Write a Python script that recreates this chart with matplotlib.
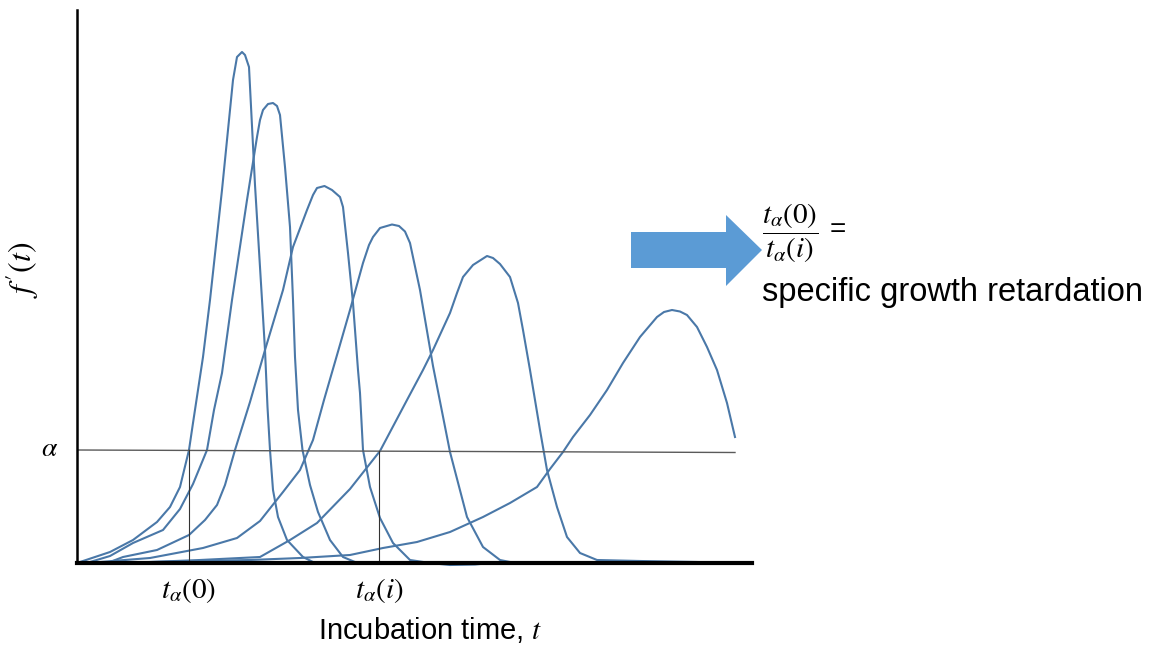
import matplotlib
matplotlib.use("Agg")
import matplotlib.pyplot as plt
from matplotlib.patches import Polygon

plt.rcParams['font.family'] = ['Liberation Sans', 'DejaVu Sans']
plt.rcParams['mathtext.fontset'] = 'stix'

# growth-rate curves f'(t), arbitrary units
t1 = [3, 33, 56, 80, 93, 103, 112, 116, 126, 133, 145, 156, 160, 165, 168, 172, 178, 185,
      188, 190.5, 193, 196, 201, 210, 226, 236, 283]
f1 = [1, 11, 23, 41, 56, 76, 113, 140, 206, 263, 373, 483, 506, 511, 508, 496, 378, 263,
      213, 156, 113, 73, 46, 23, 6, 1, 0]

t2 = [13, 33, 56, 86, 103, 116, 130, 137, 145, 155, 170, 180, 183, 186, 191, 196, 200, 203, 208,
      213, 216, 218, 221, 225.5, 233, 241, 253, 266, 278, 323]
f2 = [1, 7, 20, 33, 54, 79, 113, 153, 190, 263, 363, 426, 443, 453, 459, 460, 457, 448, 396,
      336, 263, 206, 153, 113, 78, 51, 23, 6, 1, 0]

t3 = [33, 46, 80, 112, 128, 140, 148, 158, 173, 188, 206, 216, 230, 236, 240, 247.5, 255, 263,
      266, 271, 276, 281, 283, 286, 293, 303, 316, 333, 353, 373, 398, 413]
f3 = [1, 6, 13, 28, 43, 58, 78, 113, 161, 213, 273, 316, 353, 368, 375, 377, 373, 366, 356,
      310, 260, 193, 170, 113, 76, 45, 20, 3, 0, -2, -1.5, 0]

t4 = [23, 73, 126, 160, 183, 206, 223, 236, 247, 258, 273, 286, 292, 296, 303, 315, 322, 328, 333,
      343, 356, 373, 390, 406, 423, 438]
f4 = [1, 5, 15, 25, 42, 71, 93, 123, 163, 201, 253, 300, 318, 326, 335, 338.5, 337, 331.5, 320,
      273, 197, 111, 46, 16, 3, 0]

t5 = [53, 73, 123, 183, 213, 240, 273, 303, 330, 346, 356, 373, 380, 386, 396, 410, 416, 423,
      433, 441, 446, 453, 463, 470, 480, 490, 503, 520, 563, 620, 643]
f5 = [0, 1, 3, 6, 23, 40, 74, 112, 163, 193, 213, 250, 270, 286, 298, 307, 305, 299, 286, 260,
      233, 193, 133, 93, 56, 26, 10, 3, 2, 1, 0]

t6 = [3, 73, 173, 223, 273, 306, 340, 373, 406, 433, 460, 473, 486, 496, 513, 530, 546,
      563, 580, 587, 595, 603, 610, 620, 630, 640, 650, 658]
f6 = [0, 1, 3, 5, 8, 15, 21, 31, 46, 60, 76, 94, 111, 126, 148, 173, 200, 226, 246, 251,
      253, 251.5, 248, 236, 216, 193, 160, 126]

curves = [(t1, f1), (t2, f2), (t3, f3), (t4, f4), (t5, f5), (t6, f6)]

alpha_level = [113, 110.5]   # threshold line, left and right end
alpha_span = [0, 658]
t_alpha_0 = 112
t_alpha_i = 302

W, H = 1149, 646
fig = plt.figure(figsize=(W / 100, H / 100), dpi=100)
ax = fig.add_axes([77 / W, (H - 571) / H, 675 / W, 561 / H])

for t, f in curves:
    ax.plot(t, f, color='#4A78A8', lw=1.5, solid_joinstyle='round')

ax.plot(alpha_span, alpha_level, color='#5a5a5a', lw=1.0)
for tv in (t_alpha_0, t_alpha_i):
    top = alpha_level[0] - (alpha_level[0] - alpha_level[1]) * tv / alpha_span[1]
    ax.plot([tv, tv], [0, top], color='#333333', lw=0.8)

ax.set_xlim(0, 675)
ax.set_ylim(-8, 553)
ax.spines['top'].set_visible(False)
ax.spines['right'].set_visible(False)
ax.spines['bottom'].set_position(('data', 0))
ax.spines['bottom'].set_linewidth(3)
ax.spines['left'].set_linewidth(1.8)
ax.spines['left'].set_bounds(0, 553)
ax.set_xticks([])
ax.set_yticks([])
ax.patch.set_alpha(0)

ax.annotate(r'$t_\alpha(0)$', (t_alpha_0, 0), xytext=(0, -20), textcoords='offset points',
            ha='center', va='center', fontsize=21)
ax.annotate(r'$t_\alpha(i)$', (t_alpha_i, 0), xytext=(0, -20), textcoords='offset points',
            ha='center', va='center', fontsize=21)
ax.annotate(r'$\alpha$', (0, alpha_level[0]), xytext=(-19.5, 1), textcoords='offset points',
            ha='center', va='center', fontsize=20)

fig.text(22 / W, 1 - 270 / H, r"$f\,'(t)$", rotation=90, ha='center', va='center', fontsize=23)
fig.text(430 / W, 1 - 630 / H, r'Incubation time, $t$', ha='center', va='center', fontsize=21)

# arrow pointing to the ratio
px = [631, 726, 726, 762, 726, 726, 631]
py = [232, 232, 215, 250, 286, 268, 268]
arrow = Polygon([(x / W, 1 - y / H) for x, y in zip(px, py)], closed=True,
                transform=fig.transFigure, facecolor='#5B9BD5', edgecolor='none')
fig.patches.append(arrow)

fig.text(762 / W, 1 - 233 / H, r'$\dfrac{t_\alpha(0)}{t_\alpha(i)}$', ha='left', va='center', fontsize=21)
fig.text(830 / W, 1 - 230 / H, '=', ha='left', va='center', fontsize=20)
fig.text(762 / W, 1 - 293 / H, 'specific growth retardation', ha='left', va='center', fontsize=23.5)

fig.savefig('out.png', dpi=100)
